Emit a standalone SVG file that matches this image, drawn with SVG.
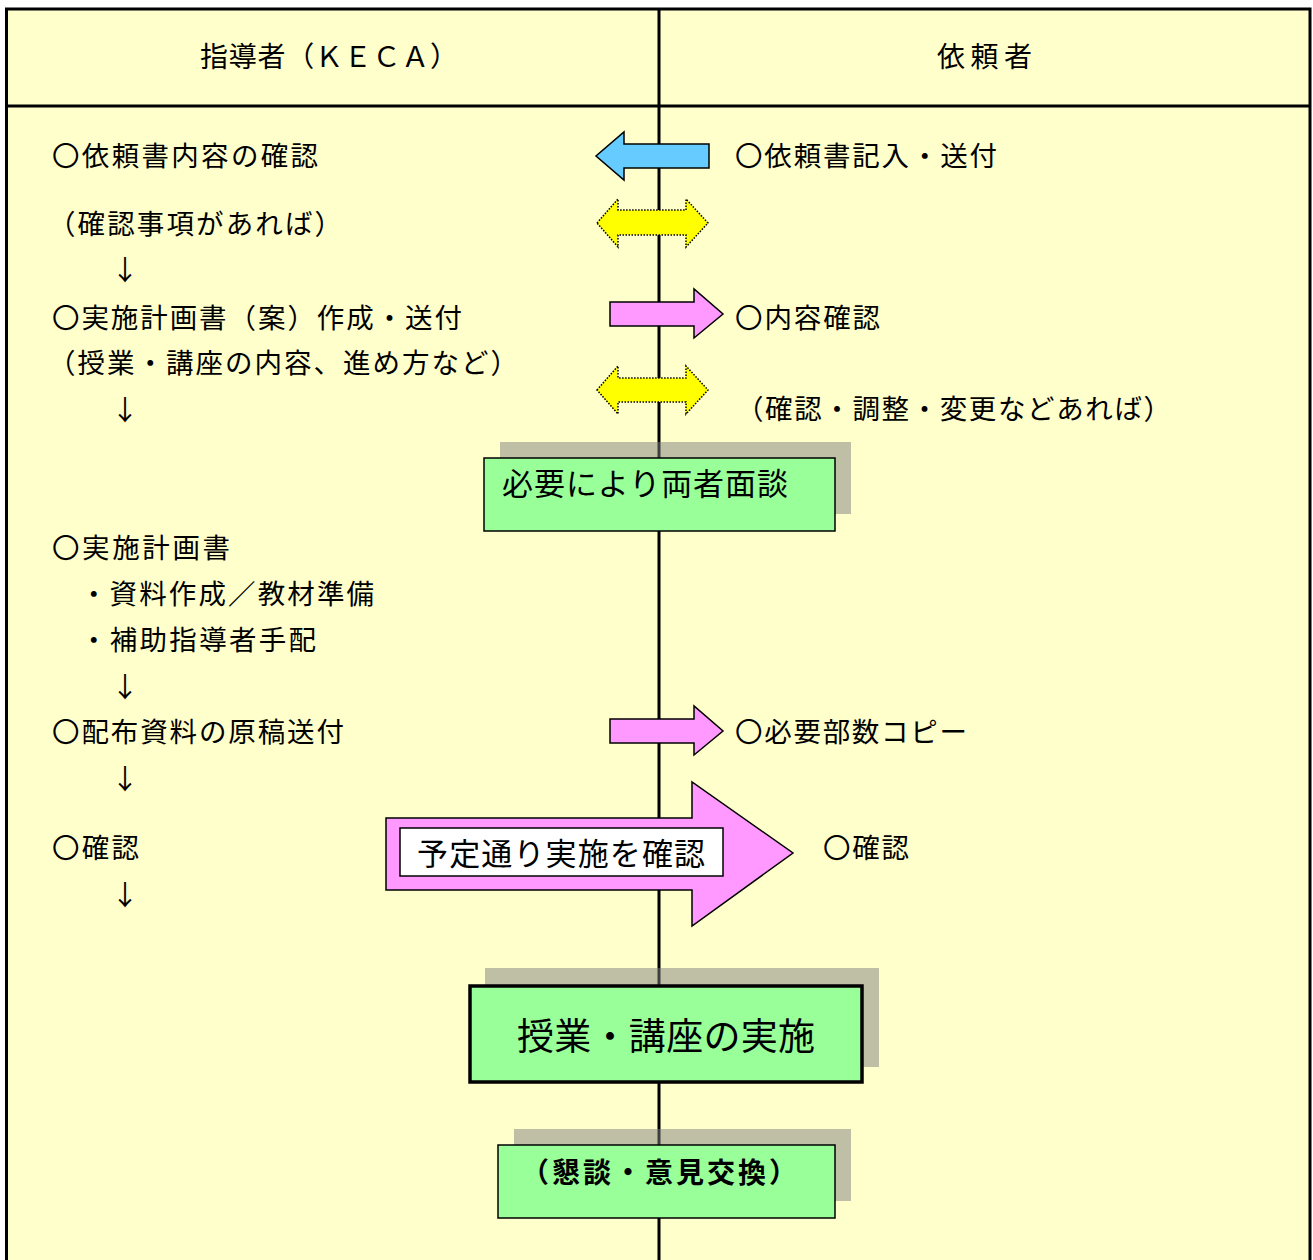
<svg xmlns="http://www.w3.org/2000/svg" width="1313" height="1260" viewBox="0 0 1313 1260">
<style>
text{font-family:"Noto Sans CJK JP","Noto Sans CJK SC",sans-serif;fill:#000;}
.t{font-size:27.5px;}
.h{font-size:28px;}
.lane{stroke:#000;stroke-width:3;fill:none;}
.shadow{fill:#808080;fill-opacity:0.5;}
.box{fill:#99FF99;stroke:#000;stroke-width:1.5;}
.boxb{fill:#99FF99;stroke:#000;stroke-width:3.5;}
.pink{fill:#FF99FF;stroke:#000;stroke-width:1.5;stroke-linejoin:miter;}
.blue{fill:#66CCFF;stroke:#000;stroke-width:1.5;}
.yellow{fill:#FFFF00;stroke:#000;stroke-width:1.5;stroke-dasharray:1.5 1.5;}
</style>
<rect x="0" y="0" width="1313" height="1260" fill="#FFFFFF"/>
<rect x="6" y="9" width="1304" height="1251" fill="#FFFFCC"/>
<g id="lanes">
<path class="lane" d="M6.5,1260 V9 H1310 V1260"/>
<line class="lane" x1="6" y1="106" x2="1310" y2="106"/>
<line class="lane" x1="659" y1="9" x2="659" y2="1260"/>
</g>
<g id="header-left"><text class="h" x="200" y="67" textLength="258" lengthAdjust="spacing">指導者（ＫＥＣＡ）</text></g>
<g id="header-right"><text class="h" x="937" y="67" textLength="95" lengthAdjust="spacing">依頼者</text></g>

<g id="left-texts">
<text class="t" x="52" y="166" textLength="266" lengthAdjust="spacing">〇依頼書内容の確認</text>
<text class="t" x="48" y="234" textLength="294" lengthAdjust="spacing">（確認事項があれば）</text>
<text class="t" x="125" y="280" text-anchor="middle">↓</text>
<text class="t" x="52" y="328" textLength="410" lengthAdjust="spacing">〇実施計画書（案）作成・送付</text>
<text class="t" x="48" y="373" textLength="470" lengthAdjust="spacing">（授業・講座の内容、進め方など）</text>
<text class="t" x="125" y="420" text-anchor="middle">↓</text>
<text class="t" x="52" y="558" textLength="178" lengthAdjust="spacing">〇実施計画書</text>
<text class="t" x="80" y="604" textLength="294" lengthAdjust="spacing">・資料作成／教材準備</text>
<text class="t" x="80" y="650" textLength="236" lengthAdjust="spacing">・補助指導者手配</text>
<text class="t" x="125" y="697" text-anchor="middle">↓</text>
<text class="t" x="52" y="742" textLength="292" lengthAdjust="spacing">〇配布資料の原稿送付</text>
<text class="t" x="125" y="789" text-anchor="middle">↓</text>
<text class="t" x="52" y="858" textLength="87" lengthAdjust="spacing">〇確認</text>
<text class="t" x="125" y="905" text-anchor="middle">↓</text>
</g>

<g id="right-texts">
<text class="t" x="735" y="166" textLength="262" lengthAdjust="spacing">〇依頼書記入・送付</text>
<text class="t" x="735" y="328" textLength="145" lengthAdjust="spacing">〇内容確認</text>
<text class="t" x="736" y="419" textLength="435" lengthAdjust="spacing">（確認・調整・変更などあれば）</text>
<text class="t" x="735" y="742" textLength="232" lengthAdjust="spacing">〇必要部数コピー</text>
<text class="t" x="823" y="858" textLength="86" lengthAdjust="spacing">〇確認</text>
</g>

<g id="connectors">
<path class="blue" d="M709,144 H624 V132 L596,156 L624,180 V168 H709 Z"/>
<path class="yellow" d="M597,223 L618,199 V210 H686 V199 L708,223 L686,247 V235 H618 V247 Z"/>
<path class="pink" d="M610,302 H694 V289 L723,314 L694,338 V326 H610 Z"/>
<path class="yellow" d="M597,390 L618,366 V378 H686 V366 L708,390 L686,414 V402 H618 V414 Z"/>
<path class="pink" d="M610,719 H694 V706 L723,731 L694,755 V743 H610 Z"/>
<g id="big-arrow">
<path class="pink" d="M386,818 H692 V782 L793,853 L692,926 V890 H386 Z"/>
<rect x="400" y="828" width="323" height="48" fill="#FFFFFF" stroke="#000" stroke-width="1.5"/>
<text x="417" y="865" font-size="31" textLength="288" lengthAdjust="spacing">予定通り実施を確認</text>
</g>
</g>

<g id="node-meeting">
<rect class="shadow" x="500" y="442" width="351" height="72"/>
<rect class="box" x="484" y="458" width="351" height="73"/>
<text x="502" y="495" font-size="31" textLength="286" lengthAdjust="spacing">必要により両者面談</text>
</g>

<g id="node-class">
<rect class="shadow" x="485" y="968" width="394" height="99"/>
<rect class="boxb" x="470" y="986" width="392" height="96"/>
<text x="517" y="1050" font-size="37" textLength="298" lengthAdjust="spacing">授業・講座の実施</text>
</g>

<g id="node-discussion">
<rect class="shadow" x="514" y="1129" width="337" height="72"/>
<rect class="box" x="498" y="1145" width="337" height="73"/>
<text x="521" y="1183" font-size="28" font-weight="bold" textLength="276" lengthAdjust="spacing">（懇談・意見交換）</text>
</g>
</svg>
